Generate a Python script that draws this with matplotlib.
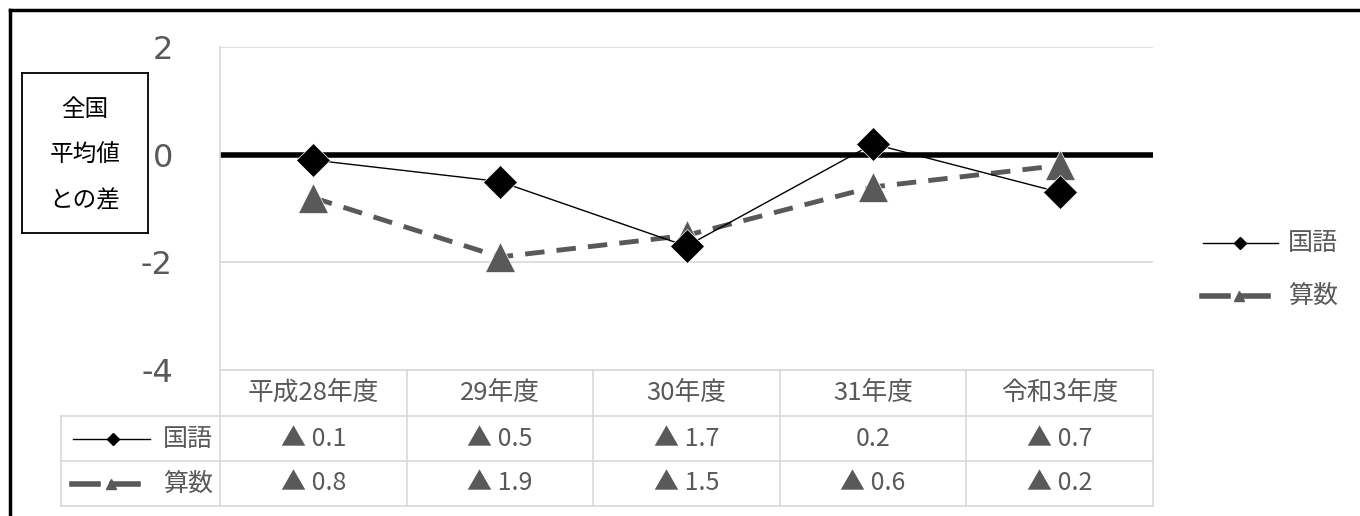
import matplotlib.pyplot as plt
from matplotlib.lines import Line2D

plt.rcParams['font.family'] = ['Noto Sans CJK JP', 'DejaVu Sans']

years = ['平成28年度', '29年度', '30年度', '31年度', '令和3年度']
kokugo = [-0.1, -0.5, -1.7, 0.2, -0.7]
sansu = [-0.8, -1.9, -1.5, -0.6, -0.2]
kokugo_labels = ['▲ 0.1', '▲ 0.5', '▲ 1.7', '0.2', '▲ 0.7']
sansu_labels = ['▲ 0.8', '▲ 1.9', '▲ 1.5', '▲ 0.6', '▲ 0.2']
series_names = ['国語', '算数']
yticks = [2, 0, -2, -4]

W, H = 1360, 516
GRID = '#d9d9d9'
TXT = '#595959'
GREY = '#595959'

fig = plt.figure(figsize=(W / 100, H / 100), dpi=100)

# outer frame (left and top only visible)
fig.add_artist(Line2D([10 / W, 10 / W], [0, 1 - 10 / H], color='black', lw=2.5,
                      transform=fig.transFigure))
fig.add_artist(Line2D([10 / W, 1], [1 - 10 / H, 1 - 10 / H], color='black', lw=2.5,
                      transform=fig.transFigure))

# main plot area (pixels: x 220..1153, y 47..370)
px0, px1, py0, py1 = 220, 1153, 47, 370
ax = fig.add_axes([px0 / W, 1 - py1 / H, (px1 - px0) / W, (py1 - py0) / H])
x = list(range(len(years)))
ax.set_xlim(-0.5, len(years) - 0.5)
ax.set_ylim(-4, 2)
for v in yticks:
    if v != 0:
        ax.axhline(v, color=GRID, lw=1.2, zorder=1)
ax.axhline(0, color='black', lw=4, zorder=2)
for s in ['top', 'right', 'bottom']:
    ax.spines[s].set_visible(False)
ax.spines['left'].set_color(GRID)
ax.spines['left'].set_linewidth(1.2)
ax.set_xticks([])
ax.set_yticks(yticks)
ax.tick_params(axis='y', length=0, pad=34, labelsize=23, labelcolor=TXT)
ax.set_yticklabels([str(v) for v in yticks], family='DejaVu Sans')

ax.plot(x, kokugo, color='black', lw=1, marker='D', ms=17, mfc='black',
        mec='white', mew=0.5, zorder=4, clip_on=False)
ax.plot(x, sansu, color=GREY, lw=3.5, ls=(0, (4, 2.5)), marker='^', ms=22,
        mfc=GREY, mec='white', mew=0.5, zorder=3, clip_on=False)

# y label box
box = fig.add_axes([22 / W, 1 - 233 / H, 126 / W, 160 / H])
box.set_xticks([])
box.set_yticks([])
for s in box.spines.values():
    s.set_linewidth(1.3)
for i, t in enumerate(['全国', '平均値', 'との差']):
    box.text(0.5, 0.77 - i * 0.285, t, ha='center', va='center', fontsize=17,
             color='black', transform=box.transAxes)

# data table below the plot, drawn in pixel coordinates
tb = fig.add_axes([0, 0, 1, 1], facecolor='none')
tb.set_xlim(0, W)
tb.set_ylim(H, 0)
tb.axis('off')
col_edges = [px0 + i * (px1 - px0) / len(years) for i in range(len(years) + 1)]
row_edges = [370, 416, 461, 506]
tleft = 61
for xe in col_edges:
    tb.plot([xe, xe], [row_edges[0], row_edges[-1]], color=GRID, lw=1.2)
tb.plot([tleft, tleft], [row_edges[1], row_edges[-1]], color=GRID, lw=1.2)
tb.plot([px0, px1], [row_edges[0], row_edges[0]], color=GRID, lw=1.2)
for ye in row_edges[1:]:
    tb.plot([tleft, px1], [ye, ye], color=GRID, lw=1.2)

centers = [(col_edges[i] + col_edges[i + 1]) / 2 for i in range(len(years))]
rows_y = [(row_edges[i] + row_edges[i + 1]) / 2 for i in range(3)]
for cx, yr in zip(centers, years):
    tb.text(cx, rows_y[0], yr, ha='center', va='center', fontsize=18.5, color=TXT)
for cx, a, b in zip(centers, kokugo_labels, sansu_labels):
    tb.text(cx, rows_y[1], a, ha='center', va='center', fontsize=18, color=TXT)
    tb.text(cx, rows_y[2], b, ha='center', va='center', fontsize=18, color=TXT)

# legend keys inside the table
tb.plot([73, 150], [rows_y[1], rows_y[1]], color='black', lw=1)
tb.plot([113], [rows_y[1]], marker='D', ms=6, color='black')
tb.plot([72, 98], [rows_y[2], rows_y[2]], color=GREY, lw=4)
tb.plot([112, 138], [rows_y[2], rows_y[2]], color=GREY, lw=4)
tb.plot([111], [rows_y[2]], marker='^', ms=7, color=GREY)
tb.text(188, rows_y[1], series_names[0], ha='center', va='center', fontsize=18, color=TXT)
tb.text(188, rows_y[2], series_names[1], ha='center', va='center', fontsize=18, color=TXT)

# legend on the right
ly = [243, 296]
tb.plot([1203, 1278], [ly[0], ly[0]], color='black', lw=1)
tb.plot([1240], [ly[0]], marker='D', ms=6, color='black')
tb.plot([1202, 1228], [ly[1], ly[1]], color=GREY, lw=4)
tb.plot([1243, 1268], [ly[1], ly[1]], color=GREY, lw=4)
tb.plot([1239], [ly[1]], marker='^', ms=7, color=GREY)
tb.text(1288, ly[0], series_names[0], ha='left', va='center', fontsize=18, color=TXT)
tb.text(1288, ly[1], series_names[1], ha='left', va='center', fontsize=18, color=TXT)

fig.savefig('out.png', dpi=100)
